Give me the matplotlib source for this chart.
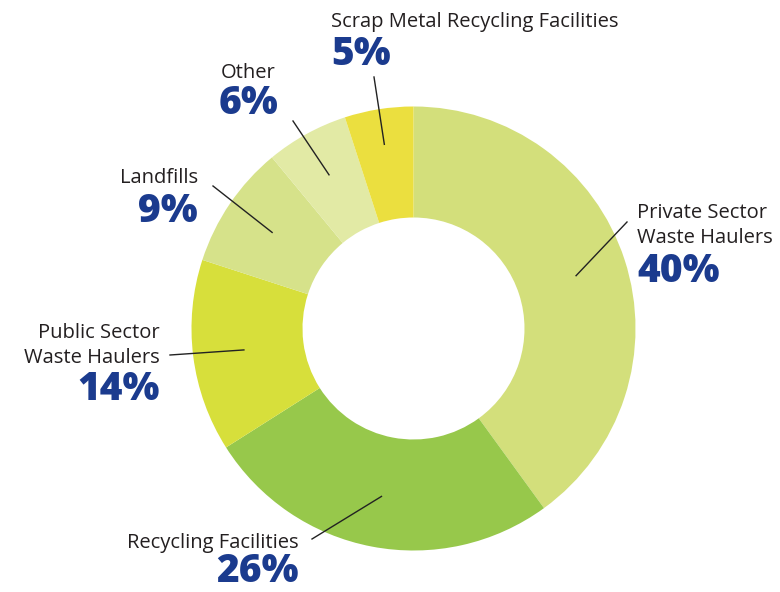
import numpy as np
import matplotlib.pyplot as plt

# ── data ────────────────────────────────────────────────────────────────────
labels = [
    "Private Sector\nWaste Haulers",
    "Recycling Facilities",
    "Public Sector\nWaste Haulers",
    "Landfills",
    "Other",
    "Scrap Metal Recycling Facilities",
]
shares = [40, 26, 14, 9, 6, 5]
colors = ["#d3df7b", "#97c84b", "#d7df3b", "#d6e28a", "#e2eaa5", "#ebdf3f"]

# ── layout (pixel coords, y down) ───────────────────────────────────────────
W, H = 780, 592
cx, cy, R = 413.5, 328.5, 222
# label anchor x, halign, last label baseline, pct baseline, leader end, leader r
label_pos = [
    (637, "left", 243, 282, (627, 222), 0.77),
    (299, "right", 548, 582, (312, 539), 0.77),
    (160, "right", 363, 400, (170, 355), 0.77),
    (198, "right", 183, 222, (213, 186), 0.77),
    (248, "center", 78, 114, (293, 121), 0.79),
    (331, "left", 27, 65, (374, 77), 0.84),
]
line_gap = 25
navy = "#1b3b8e"
plt.rcParams["font.family"] = ["Open Sans", "DejaVu Sans"]

fig = plt.figure(figsize=(W / 100, H / 100), dpi=100)
ax = fig.add_axes([0, 0, 1, 1])

# y axis is inverted, so counterclock in data = clockwise on screen
ax.pie(
    shares,
    colors=colors,
    center=(cx, cy),
    radius=R,
    startangle=-90,
    counterclock=True,
    wedgeprops=dict(width=R * 0.5, linewidth=0),
    frame=True,
)
ax.set_xlim(0, W)
ax.set_ylim(H, 0)
ax.axis("off")

cum = np.cumsum([0] + shares)
for i, (lab, val) in enumerate(zip(labels, shares)):
    x, ha, base, pbase, end, rf = label_pos[i]
    mid = np.deg2rad(-90 + (cum[i] + val / 2) / 100 * 360)
    px, py = cx + rf * R * np.cos(mid), cy + rf * R * np.sin(mid)
    ax.plot([px, end[0]], [py, end[1]], color="#222222", lw=1.0)

    lines = lab.split("\n")
    for j, ln in enumerate(lines):
        yb = base - (len(lines) - 1 - j) * line_gap
        ax.text(x, yb, ln, ha=ha, va="baseline", fontsize=14.5, color="#231f20")
    ax.text(x, pbase, f"{val}%", ha=ha, va="baseline", fontsize=28,
            fontweight=800, color=navy)

fig.savefig("out.png", dpi=100)
